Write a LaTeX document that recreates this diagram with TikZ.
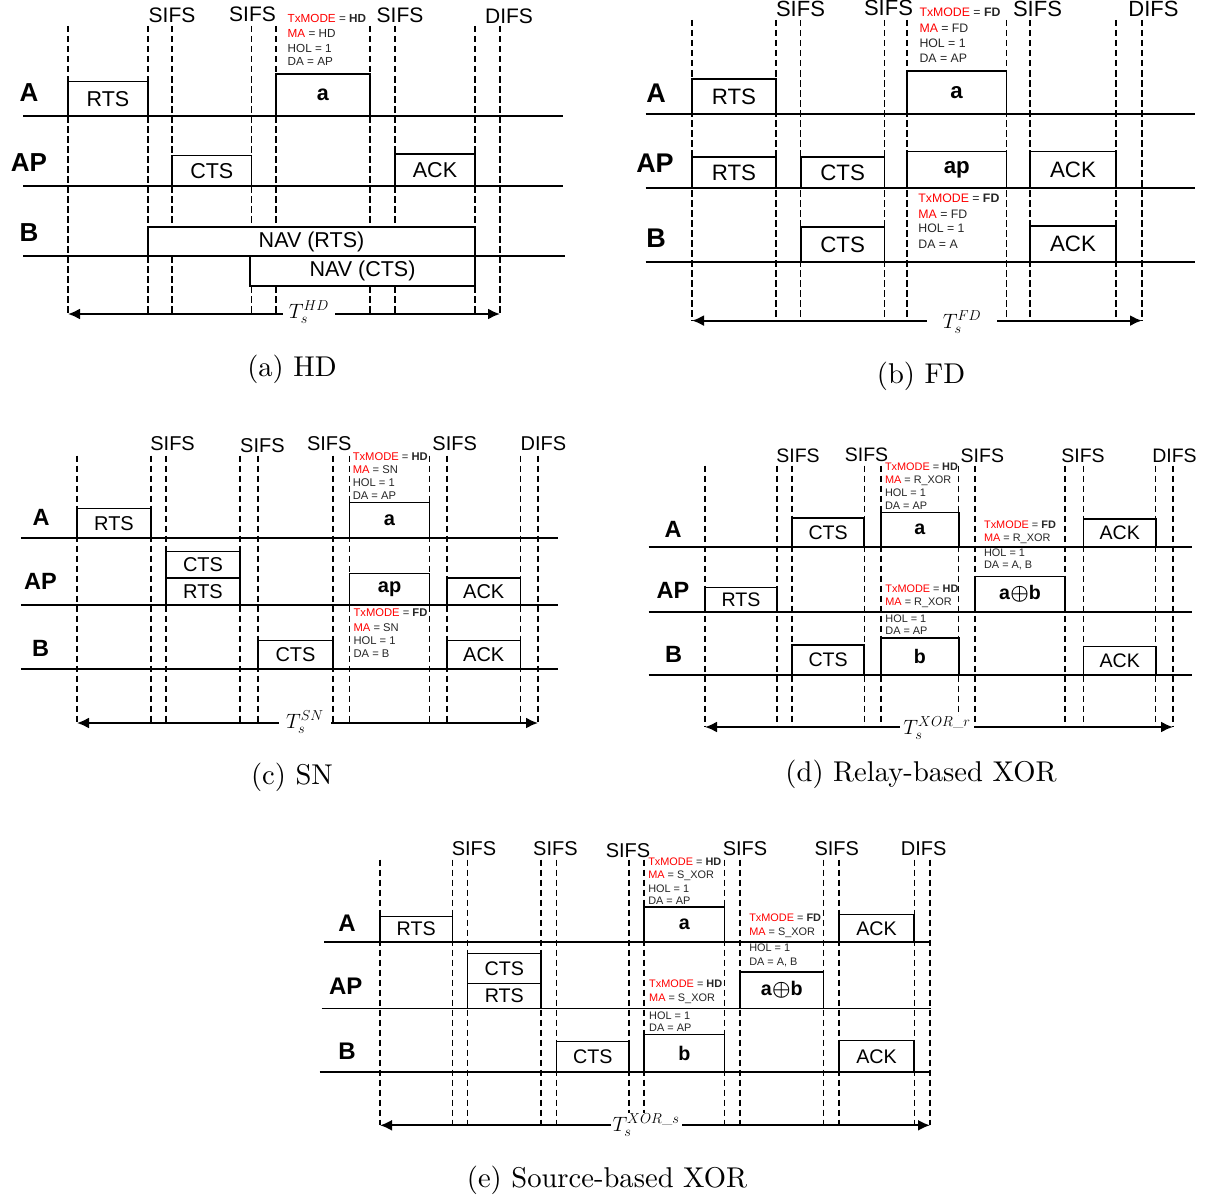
\documentclass[tikz,border=0pt]{standalone}
\usepackage{fontspec}
\usepackage{amsmath}
\usetikzlibrary{arrows.meta}
\newfontfamily\arial{Liberation Sans}
\newfontfamily\capfont{lmroman10-regular}[Extension=.otf]
\newcount\anncnt
\newcommand\TLbox[6]{\node[tlbox, minimum width={(#4-#2)*1pt}, minimum height={(#5-#3)*1pt}] (#1) at ({(#2+#4)/2},{(#3+#5)/2}) {#6};}
\newcommand\annline[3]{\global\advance\anncnt by 1 \node[ann] (ann\the\anncnt) at (#1,#2) {#3};}
\newcommand\annblock[8]{%
  \annline{#1}{#2}{\textcolor{red}{TxMODE} = \textbf{#6}}%
  \annline{#1}{#3}{\textcolor{red}{MA} = #7}%
  \annline{#1}{#4}{HOL = 1}%
  \annline{#1}{#5}{DA = #8}}
\newcommand\xorsym{\textbf{a}$\boldsymbol{\oplus}$\textbf{b}}
\begin{document}
\begin{tikzpicture}[x=1pt,y=-1pt,
  tlbox/.style={draw, fill=white, line width=1.5pt, inner sep=0pt, font=\arial\fontsize{\pzbox}{\pzbox}\selectfont},
  rowline/.style={line width=1.3pt},
  dl/.style={line width=1.3pt, dash pattern=on 6.5pt off 3.5pt},
  ann/.style={anchor=mid west, inner sep=0pt, font=\arial\fontsize{\pzann}{\pzann}\selectfont, text=black!85},
  rowlab/.style={font=\arial\bfseries\fontsize{\pzrow}{\pzrow}\selectfont, inner sep=0pt},
  sifs/.style={font=\arial\fontsize{\pzsifs}{\pzsifs}\selectfont, inner sep=0pt},
  tarrow/.style={line width=2pt, {Latex[length=12pt,width=11pt]}-{Latex[length=12pt,width=11pt]}},
  tlab/.style={fill=white, inner ysep=1pt, font=\fontsize{\pzt}{\pzt}\selectfont},
  captxt/.style={font=\capfont\fontsize{28.6}{34}\selectfont, inner sep=0pt}]
\useasboundingbox (0,0) rectangle (1207,1199);

% ---------------- (a) HD ----------------
\begin{scope}
\def\pzbox{21.5}\def\pzann{11.7}\def\pzrow{26}\def\pzsifs{21}\def\pzt{21}
\foreach \x in {68,148,172,251.5,276,370,395,475,500} \draw[dl] (\x,26) -- (\x,314);
\draw[rowline] (23,116) -- (563,116);
\draw[rowline] (23,186) -- (563,186);
\draw[rowline] (23,256) -- (565,256);
\TLbox{aRTS}{68}{81.4}{148}{116}{RTS}
\TLbox{aDat}{276}{73.8}{370}{116}{\textbf{a}}
\TLbox{aCTS}{172}{155.6}{251.5}{186}{CTS}
\TLbox{aACK}{395}{154.2}{475}{186}{ACK}
\TLbox{aNAVr}{148}{227}{475}{256}{NAV (RTS)}
\TLbox{aNAVc}{250}{256}{475}{286}{NAV (CTS)}
\node[rowlab] (aLA) at (29,92.5) {A};
\node[rowlab] (aLAP) at (29,163) {AP};
\node[rowlab] (aLB) at (29,233) {B};
\node[sifs] (aS1) at (172,15) {SIFS};
\node[sifs] (aS2) at (252.5,14) {SIFS};
\node[sifs] (aS3) at (400,15) {SIFS};
\node[sifs] (aD) at (509,16) {DIFS};
\annblock{287.5}{20.6}{35.2}{49.9}{63.1}{HD}{HD}{AP}
\coordinate (aL) at (68,314);
\coordinate (aR) at (500,314);
\draw[tarrow] (aL) -- (aR);
\node[tlab, inner xsep=6pt] (aT) at (309,312) {$T_s^{HD}$};
\node[captxt] (aCap) at (292,369) {(a) HD};
\end{scope}

% ---------------- (b) FD ----------------
\begin{scope}
\def\pzbox{22.3}\def\pzann{12.3}\def\pzrow{27}\def\pzsifs{22}\def\pzt{22}
\foreach \x in {692,776,800.8,884.5,907,1006.5,1030,1116,1142} \draw[dl] (\x,20) -- (\x,320.6);
\draw[rowline] (645.5,114) -- (1194.5,114);
\draw[rowline] (645.5,188) -- (1194.5,188);
\draw[rowline] (645.5,262) -- (1194.5,262);
\TLbox{bRTSa}{692}{78.8}{776}{114}{RTS}
\TLbox{bDat}{907}{71.1}{1006.5}{114}{\textbf{a}}
\TLbox{bRTSap}{692}{156.9}{776}{188}{RTS}
\TLbox{bCTSap}{800.8}{157.2}{884.5}{188}{CTS}
\TLbox{bDap}{907}{151.5}{1006.5}{188}{\textbf{ap}}
\TLbox{bACKap}{1030}{151.5}{1116}{188}{ACK}
\TLbox{bCTSb}{800.8}{226.8}{884.5}{262}{CTS}
\TLbox{bACKb}{1030}{226.2}{1116}{262}{ACK}
\node[rowlab] (bLA) at (656,93) {A};
\node[rowlab] (bLAP) at (655,163) {AP};
\node[rowlab] (bLB) at (656,238.5) {B};
\node[sifs] (bS1) at (800.5,9) {SIFS};
\node[sifs] (bS2) at (888.5,8) {SIFS};
\node[sifs] (bS3) at (1037.5,9) {SIFS};
\node[sifs] (bD) at (1153.5,9) {DIFS};
\annblock{919.3}{14.2}{29.9}{45}{60.1}{FD}{FD}{AP}
\annblock{918.2}{200.7}{216.1}{230.8}{245.9}{FD}{FD}{A}
\coordinate (bL) at (692,320.6);
\coordinate (bR) at (1142,320.6);
\draw[tarrow] (bL) -- (bR);
\node[tlab, inner xsep=16pt] (bT) at (962,322) {$T_s^{FD}$};
\node[captxt] (bCap) at (921,376) {(b) FD};
\end{scope}

% ---------------- (c) SN ----------------
\begin{scope}
\def\pzbox{20}\def\pzann{11.2}\def\pzrow{23.5}\def\pzsifs{20}\def\pzt{20}
\foreach \x in {77,151,166,240,258,333,349.6,429.5,447,520.5,538} \draw[dl] (\x,455.7) -- (\x,723);
\draw[rowline] (20.8,538) -- (558,538);
\draw[rowline] (20.8,605) -- (558,605);
\draw[rowline] (20.8,669) -- (558,669);
\TLbox{cRTSa}{77}{508.3}{151}{538}{RTS}
\TLbox{cDat}{349.6}{502.3}{429.5}{538}{\textbf{a}}
\TLbox{cCTSap}{166}{551.3}{240}{578}{CTS}
\TLbox{cRTSap}{166}{578}{240}{605}{RTS}
\TLbox{cDap}{349.6}{573.3}{429.5}{605}{\textbf{ap}}
\TLbox{cACKap}{447}{578}{520.5}{605}{ACK}
\TLbox{cCTSb}{258}{640.7}{333}{669}{CTS}
\TLbox{cACKb}{447}{640.7}{520.5}{669}{ACK}
\node[rowlab] (cLA) at (41,517) {A};
\node[rowlab] (cLAP) at (40.5,581) {AP};
\node[rowlab] (cLB) at (40.5,648) {B};
\node[sifs] (cS1) at (172.6,444) {SIFS};
\node[sifs] (cS2) at (262.4,445.5) {SIFS};
\node[sifs] (cS3) at (329.3,444) {SIFS};
\node[sifs] (cS4) at (454.7,444) {SIFS};
\node[sifs] (cD) at (543.4,444) {DIFS};
\annblock{352.6}{458}{471}{484}{497.7}{HD}{SN}{AP}
\annblock{353.4}{614.7}{629}{642}{655}{FD}{SN}{B}
\coordinate (cL) at (77,723);
\coordinate (cR) at (538,723);
\draw[tarrow] (cL) -- (cR);
\node[tlab, inner xsep=7pt] (cT) at (305,722) {$T_s^{SN}$};
\node[captxt] (cCap) at (292,777) {(c) SN};
\end{scope}

% ---------------- (d) Relay-based XOR ----------------
\begin{scope}
\def\pzbox{19.6}\def\pzann{10.9}\def\pzrow{23.5}\def\pzsifs{19.5}\def\pzt{20}
\foreach \x in {705,777,792,864.2,881,958.8,975,1065,1083.7,1155.8,1173} \draw[dl] (\x,465.7) -- (\x,727);
\draw[rowline] (648.6,547) -- (1192.4,547);
\draw[rowline] (648.6,612) -- (1192.4,612);
\draw[rowline] (648.6,675) -- (1192.4,675);
\TLbox{dCTSa}{792}{518}{864.2}{547}{CTS}
\TLbox{dDat}{881}{512.3}{958.8}{547}{\textbf{a}}
\TLbox{dACKa}{1083.7}{519}{1155.8}{547}{ACK}
\TLbox{dRTSap}{705}{587.3}{777}{612}{RTS}
\TLbox{dXor}{975}{576.3}{1065}{612}{\xorsym}
\TLbox{dCTSb}{792}{645}{864.2}{675}{CTS}
\TLbox{dDbt}{881}{638}{958.8}{675}{\textbf{b}}
\TLbox{dACKb}{1083.7}{646.3}{1155.8}{675}{ACK}
\node[rowlab] (dLA) at (673,529) {A};
\node[rowlab] (dLAP) at (673,590) {AP};
\node[rowlab] (dLB) at (673.5,654.7) {B};
\node[sifs] (dS1) at (798,455.7) {SIFS};
\node[sifs] (dS2) at (866.5,454.7) {SIFS};
\node[sifs] (dS3) at (982.4,455.7) {SIFS};
\node[sifs] (dS4) at (1083,455.7) {SIFS};
\node[sifs] (dD) at (1174.5,455.7) {DIFS};
\annblock{884.8}{468}{481.3}{494}{507}{HD}{R\_XOR}{AP}
\annblock{983.9}{526.3}{539}{554}{566.7}{FD}{R\_XOR}{A, B}
\annblock{885.2}{590}{603}{620}{632.7}{HD}{R\_XOR}{AP}
\coordinate (dL) at (705,727);
\coordinate (dR) at (1173,727);
\draw[tarrow] (dL) -- (dR);
\node[tlab, inner xsep=3pt] (dT) at (937,728) {$T_s^{XOR\_r}$};
\node[captxt] (dCap) at (921,774) {(d) Relay-based XOR};
\end{scope}

% ---------------- (e) Source-based XOR ----------------
\begin{scope}
\def\pzbox{19.7}\def\pzann{10.9}\def\pzrow{24}\def\pzsifs{20}\def\pzt{20}
\foreach \x in {380,452.4,467.7,541,556.7,629.1,644,724.7,740,823.6,838.9,914.2,930} \draw[dl] (\x,859.7) -- (\x,1125.3);
\draw[rowline] (324,942) -- (931,942);
\draw[rowline] (321.7,1008.3) -- (931,1008.3);
\draw[rowline] (319.6,1072) -- (931,1072);
\TLbox{eRTSa}{380}{916.3}{452.4}{942}{RTS}
\TLbox{eDat}{644}{907}{724.7}{942}{\textbf{a}}
\TLbox{eACKa}{838.9}{914.7}{914.2}{942}{ACK}
\TLbox{eCTSap}{467.7}{953.7}{541}{983.7}{CTS}
\TLbox{eRTSap}{467.7}{983.7}{541}{1008.3}{RTS}
\TLbox{eXor}{740}{972}{823.6}{1008.3}{\xorsym}
\TLbox{eCTSb}{556.7}{1041.3}{629.1}{1072}{CTS}
\TLbox{eDbt}{644}{1034.7}{724.7}{1072}{\textbf{b}}
\TLbox{eACKb}{838.9}{1040.7}{914.2}{1072}{ACK}
\node[rowlab] (eLA) at (347,923.7) {A};
\node[rowlab] (eLAP) at (345.7,986.3) {AP};
\node[rowlab] (eLB) at (347,1051.3) {B};
\node[sifs] (eS1) at (474,849) {SIFS};
\node[sifs] (eS2) at (555.4,849) {SIFS};
\node[sifs] (eS3) at (628,850.3) {SIFS};
\node[sifs] (eS4) at (745,849) {SIFS};
\node[sifs] (eS5) at (836.8,849) {SIFS};
\node[sifs] (eD) at (923.7,849) {DIFS};
\annblock{648.1}{863}{876.3}{890.3}{902.3}{HD}{S\_XOR}{AP}
\annblock{749.1}{919.7}{933}{949.7}{963.7}{FD}{S\_XOR}{A, B}
\annblock{649}{985.7}{999.7}{1017}{1029.7}{HD}{S\_XOR}{AP}
\coordinate (eL) at (380,1125.3);
\coordinate (eR) at (930,1125.3);
\draw[tarrow] (eL) -- (eR);
\node[tlab, inner xsep=2pt] (eT) at (646,1125) {$T_s^{XOR\_s}$};
\node[captxt] (eCap) at (607,1180) {(e) Source-based XOR};
\end{scope}
\end{tikzpicture}
\end{document}
